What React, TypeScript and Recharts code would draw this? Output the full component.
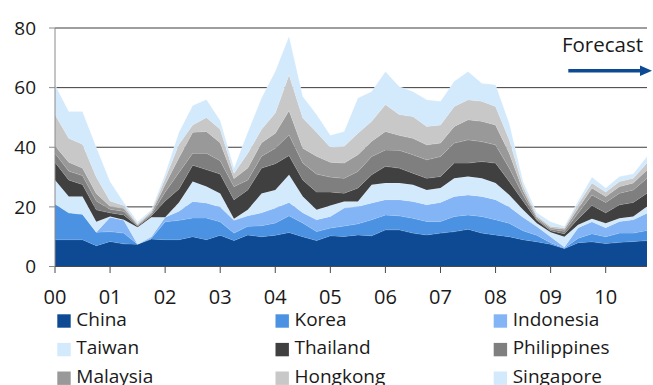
import { AreaChart, Area, XAxis, YAxis, CartesianGrid, Legend } from "recharts";

// Quarterly values, 2000Q1 .. 2010Q4
const china = [9, 9, 9, 7, 8.4, 7.6, 7.5, 9.2, 9, 9, 10, 9, 10.5, 8.7, 10.6, 10, 10.5, 11.4, 10, 8.7, 10.3, 10.1, 10.6, 10.3, 12.3, 12.3, 11.2, 10.6, 11.2, 11.7, 12.5, 11.2, 10.6, 10, 9, 8.3, 7.5, 6, 8, 8.3, 7.7, 8.1, 8.4, 8.7];
const korea = [12, 9, 8.5, 4.5, 3.3, 3.6, 0, 0.3, 6, 6.5, 6.3, 7.3, 4.5, 2.5, 2.9, 3.7, 4.1, 5.6, 4.6, 3, 2.6, 3.5, 3.7, 5.4, 5, 4.7, 5, 4.5, 3.9, 5.1, 4.8, 5.6, 5.1, 4.5, 3, 2.2, 0.5, 0.2, 1.5, 2.7, 2.3, 3.1, 2.8, 3.4];
const indonesia = [0, 0, 0, 0, 4.8, 4.3, 0, 0.5, 1.5, 3, 5.5, 5, 5, 4.3, 3.5, 4.3, 5, 4.5, 3.4, 4, 3.9, 6, 5.8, 5.6, 5.1, 5.4, 5.6, 5.6, 6.4, 6.7, 6.7, 6.7, 6.7, 5.5, 4.5, 2.9, 2, 0.3, 3.5, 4, 3, 3.9, 4.5, 5.8];
const taiwan = [8, 5.5, 6, 3.5, 0.3, 0.2, 5.7, 6.5, 0, 3, 6.7, 5.5, 4.5, 0.5, 2, 6.5, 6.1, 9.3, 5.5, 3.3, 3.7, 2.2, 1.7, 6.1, 5.6, 5.6, 5.6, 5, 4.8, 6.1, 6.2, 6.1, 5.6, 4, 2.5, 1.1, 1.5, 3.5, 1, 1, 1.5, 1.1, 1.1, 2.2];
const thailand = [6, 5.5, 4, 4, 1.2, 1.6, 0.3, 0.5, 5.5, 4.5, 5.5, 5.7, 6.5, 6.4, 6.7, 8.5, 8.8, 6.4, 5.5, 6, 4.5, 2.8, 4.5, 3.4, 5.6, 5, 3.9, 3.9, 3.9, 5.1, 4.5, 5.6, 6.7, 4.5, 3, 1, 0.5, 1, 2, 4.5, 3.5, 4.5, 4.7, 4.5];
const philippines = [3, 3, 3, 3, 1.2, 1.2, 0.3, 0.5, 3, 5.5, 4, 5.5, 4.5, 4.4, 3.3, 4, 5.2, 7, 5.7, 6, 5, 5, 5.6, 6.1, 5.5, 6, 6.2, 6.2, 6.7, 6.7, 7.8, 6.7, 6.1, 4.5, 2, 0.5, 0.5, 0.8, 2, 3.5, 3.5, 3.9, 4.2, 5];
const malaysia = [2.5, 3, 2.5, 2.5, 1, 1, 0.2, 0.5, 2.5, 5, 7, 7.3, 6, 2.7, 4, 4.5, 5, 8.1, 5, 6, 5, 5.1, 5.6, 5.1, 6.2, 5, 5.5, 5, 4.5, 5.6, 6.7, 6.8, 6.7, 5, 1.5, 0.5, 0.5, 0.7, 1.5, 2.3, 2, 2.2, 2.3, 2.8];
const hongkong = [10.5, 8, 8, 5.5, 1.8, 1, 0.3, 0.5, 2, 4.5, 2.5, 4.7, 4.5, 1.8, 5, 4.5, 6.8, 12, 10.1, 8, 5, 5.6, 7.2, 6.7, 9, 7, 7.3, 6.2, 6.1, 6.7, 6.7, 6.7, 6.2, 4.5, 1.5, 0.5, 0.5, 0.5, 1.5, 1.7, 1.5, 1.7, 1.6, 2.3];
const singapore = [10, 9, 11, 10, 6.5, 1, 0.7, 0.5, 1.5, 4, 6.5, 6, 3, 1.7, 7, 10.5, 14, 12.9, 7.2, 6, 4, 5, 11.8, 10, 11.1, 9.4, 8.4, 8.9, 7.9, 8.4, 9.5, 6.1, 7.3, 5.5, 1.5, 1, 1.5, 0.5, 1, 2, 1.3, 1.7, 1.5, 2.2];

const yearLabels = ["00", "01", "02", "03", "04", "05", "06", "07", "08", "09", "10"];
const yTicks = [0, 20, 40, 60, 80];

const series = [
  { key: "China", values: china, color: "#0e4a93" },
  { key: "Korea", values: korea, color: "#4b92e2" },
  { key: "Indonesia", values: indonesia, color: "#82b4f6" },
  { key: "Taiwan", values: taiwan, color: "#d3e9fc" },
  { key: "Thailand", values: thailand, color: "#404040" },
  { key: "Philippines", values: philippines, color: "#7f7f7f" },
  { key: "Malaysia", values: malaysia, color: "#999999" },
  { key: "Hongkong", values: hongkong, color: "#c8c8c8" },
  { key: "Singapore", values: singapore, color: "#d3e9fc" },
];

const data = china.map((_, i) => {
  const row: Record<string, number> = { q: i };
  series.forEach((s) => {
    row[s.key] = s.values[i];
  });
  return row;
});

const FONT = "'Open Sans', 'Noto Sans', sans-serif";

function LegendGrid() {
  return (
    <svg width={647} height={80} style={{ display: "block" }}>
      {series.map((s, idx) => {
        const col = idx % 3;
        const row = Math.floor(idx / 3);
        const x = 57.3 + col * 218.2;
        const y = 9.3 + row * 28.6;
        return (
          <g key={s.key}>
            <rect x={x} y={y} width={13.4} height={13.4} fill={s.color} />
            <text x={x + 19} y={y + 11.4} fontSize={19} fontFamily={FONT} fill="#1a1a1a">
              {s.key}
            </text>
          </g>
        );
      })}
    </svg>
  );
}

export default function App() {
  return (
    <div style={{ position: "absolute", left: 0, top: 0, width: 653, height: 385, background: "#fff" }}>
      <AreaChart
        width={653}
        height={385}
        data={data}
        margin={{ top: 28, right: 6, bottom: 0, left: 0 }}
      >
        <CartesianGrid vertical={false} stroke="#3c3c3c" strokeWidth={1} />
        <XAxis
          dataKey="q"
          type="number"
          domain={[0, 43]}
          ticks={yearLabels.map((_, k) => k * 4)}
          tickFormatter={(v) => yearLabels[v / 4]}
          interval={0}
          height={38.5}
          stroke="#4a4a4a"
          tickSize={6.5}
          tickMargin={17}
          tick={{ fill: "#1a1a1a", fontSize: 20, fontFamily: FONT }}
        />
        <YAxis
          domain={[0, 80]}
          ticks={yTicks}
          width={55}
          stroke="#8a8a8a"
          tickSize={6}
          tickMargin={13}
          tick={{ fill: "#1a1a1a", fontSize: 19, fontFamily: FONT }}
        />
        {series.map((s) => (
          <Area
            key={s.key}
            type="linear"
            dataKey={s.key}
            stackId="1"
            fill={s.color}
            fillOpacity={1}
            stroke="#ffffff"
            strokeOpacity={0.35}
            strokeWidth={0.7}
            isAnimationActive={false}
          />
        ))}
        <Legend verticalAlign="bottom" content={() => <LegendGrid />} />
      </AreaChart>
      <svg
        width={653}
        height={385}
        style={{ position: "absolute", left: 0, top: 0, pointerEvents: "none" }}
      >
        <text x={643} y={52.3} textAnchor="end" fontSize={20.5} fontFamily={FONT} fill="#1a1a1a">
          Forecast
        </text>
        <line x1={568.3} y1={70.7} x2={642} y2={70.7} stroke="#0e4a93" strokeWidth={3.6} />
        <polygon points="640,65.5 652,70.7 640,75.9" fill="#0e4a93" />
      </svg>
    </div>
  );
}
